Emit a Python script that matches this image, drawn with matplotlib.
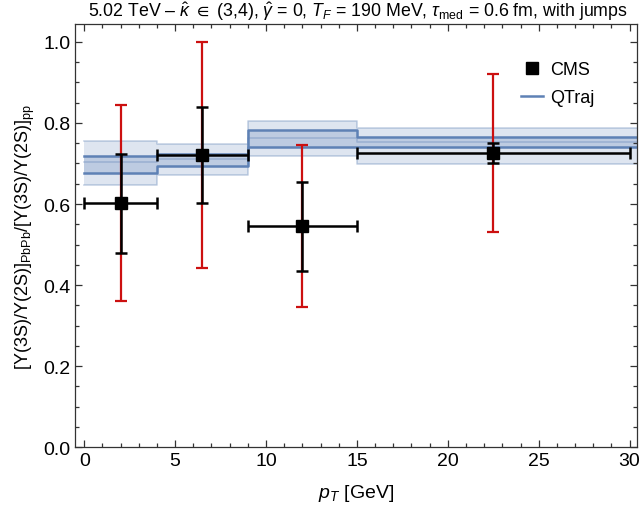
import matplotlib
matplotlib.use("Agg")
import matplotlib.pyplot as plt
import numpy as np
from matplotlib.lines import Line2D
from matplotlib.ticker import MultipleLocator, FormatStrFormatter

plt.rcParams['font.family'] = ['Liberation Sans', 'DejaVu Sans']
plt.rcParams['mathtext.fontset'] = 'custom'
plt.rcParams['mathtext.rm'] = 'Liberation Sans'
plt.rcParams['mathtext.it'] = 'Liberation Sans:italic'
plt.rcParams['mathtext.bf'] = 'Liberation Sans:bold'
plt.rcParams['mathtext.fallback'] = 'stixsans'

# ---- data ----
cms_pt = [2.0, 6.5, 12.0, 22.5]
cms_pt_lo = [0.0, 4.0, 9.0, 15.0]
cms_pt_hi = [4.0, 9.0, 15.0, 30.0]
cms_ratio = [0.602, 0.721, 0.545, 0.725]
cms_stat_up = [0.121, 0.119, 0.110, 0.025]
cms_stat_dn = [0.122, 0.118, 0.110, 0.025]
cms_sys_up = [0.242, 0.278, 0.201, 0.195]
cms_sys_dn = [0.242, 0.278, 0.200, 0.195]

qtraj_edges = [0, 4, 9, 15, 31]
qtraj_outer_lo = [0.647, 0.672, 0.718, 0.699]
qtraj_outer_hi = [0.755, 0.748, 0.804, 0.787]
qtraj_inner_lo = [0.676, 0.693, 0.740, 0.740]
qtraj_inner_hi = [0.719, 0.723, 0.783, 0.765]
qtraj_mid = [0.703, 0.710, 0.762, 0.752]

title = (r"5.02 TeV – $\hat{\kappa}\ {\in}\ $(3,4), $\hat{\gamma}$ = 0, $T_F$ = 190 MeV, "
         r"$\tau_{\rm med}$ = 0.6 fm, with jumps")

blue = '#5E81B5'
red = '#cc1010'

fig = plt.figure(figsize=(6.42, 5.10), dpi=100)
ax = fig.add_axes([0.117, 0.121, 0.875, 0.830])

def stepv(v):
    return list(v) + [v[-1]]

e = qtraj_edges
ax.fill_between(e, stepv(qtraj_outer_lo), stepv(qtraj_outer_hi), step='post',
                facecolor=blue, alpha=0.2, edgecolor='none', zorder=1)
ax.step(e, stepv(qtraj_outer_lo), where='post', color=blue, alpha=0.35, lw=1.2, zorder=1.1)
ax.step(e, stepv(qtraj_outer_hi), where='post', color=blue, alpha=0.35, lw=1.2, zorder=1.1)
ax.fill_between(e, stepv(qtraj_inner_lo), stepv(qtraj_inner_hi), step='post',
                facecolor=blue, alpha=0.25, edgecolor='none', zorder=1.2)
ax.step(e, stepv(qtraj_mid), where='post', color=blue, alpha=0.35, lw=1.2, zorder=1.3)
ax.step(e, stepv(qtraj_inner_lo), where='post', color=blue, lw=1.8, zorder=1.4)
ax.step(e, stepv(qtraj_inner_hi), where='post', color=blue, lw=1.8, zorder=1.4)

x = np.array(cms_pt)
y = np.array(cms_ratio)
xerr = np.array([x - np.array(cms_pt_lo), np.array(cms_pt_hi) - x])
ax.errorbar(x, y, yerr=[cms_sys_dn, cms_sys_up], fmt='none', ecolor=red,
            elinewidth=1.6, capsize=4, capthick=1.6, zorder=3)
ax.errorbar(x, y, yerr=[cms_stat_dn, cms_stat_up], xerr=xerr, fmt='none', ecolor='black',
            elinewidth=1.8, capsize=4, capthick=1.8, zorder=4)
ax.plot(x, y, 's', color='black', ms=9, zorder=5)

ax.set_xlim(-0.5, 30.4)
ax.set_ylim(0, 1.044)
ax.xaxis.set_major_locator(MultipleLocator(5))
ax.xaxis.set_minor_locator(MultipleLocator(1))
ax.yaxis.set_major_locator(MultipleLocator(0.2))
ax.yaxis.set_minor_locator(MultipleLocator(0.05))
ax.yaxis.set_major_formatter(FormatStrFormatter('%.1f'))
ax.tick_params(which='both', direction='in', top=True, right=True, labelsize=14,
               color='#333333', width=0.9)
ax.tick_params(which='major', length=5)
ax.tick_params(which='minor', length=3)
for s in ax.spines.values():
    s.set_color('#333333')
    s.set_linewidth(0.9)

ax.set_xlabel(r"$p_T$ [GeV]", fontsize=14, labelpad=9)
ax.set_ylabel(r"[Υ(3S)/Υ(2S)]$_{\rm PbPb}$/[Υ(3S)/Υ(2S)]$_{\rm pp}$", fontsize=13)
fig.text(358/642, 1 - 12/510, title, fontsize=12.8, ha='center', va='center')

handles = [Line2D([], [], marker='s', color='black', ls='none', ms=8),
           Line2D([], [], color=blue, lw=1.8)]
ax.legend(handles, ['CMS', 'QTraj'], loc='upper left', bbox_to_anchor=(0.794, 0.912),
          borderaxespad=0, borderpad=0,
          frameon=False, fontsize=13, handlelength=1.2, handletextpad=0.4, labelspacing=0.6)

fig.savefig('out.png', dpi=100)
